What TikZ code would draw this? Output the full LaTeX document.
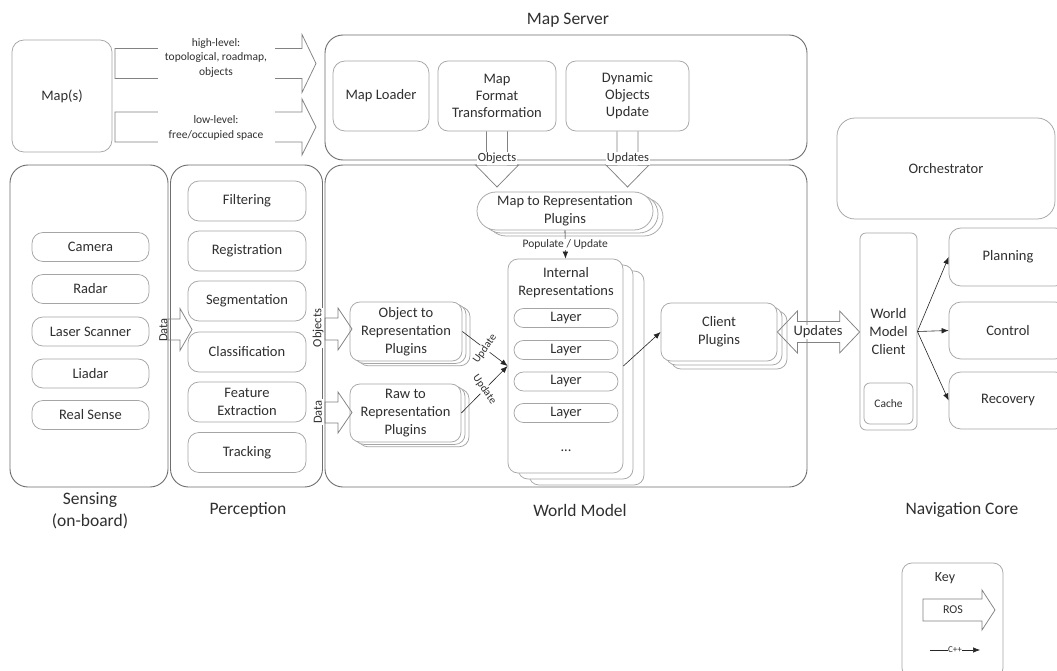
\documentclass[tikz,border=0pt]{standalone}
\usepackage{fontspec}
\setmainfont{Carlito}
\usetikzlibrary{shadows,arrows.meta,calc}
\definecolor{ink}{RGB}{48,48,48}
\definecolor{framegray}{RGB}{110,110,110}
\definecolor{boxline}{RGB}{165,165,165}
\definecolor{arrowline}{RGB}{130,130,130}
\newcommand\fs[2]{\fontsize{#1}{#2}\selectfont}
% outline ("ROS") arrows: start, end, shaft half width, head half width, head length
\newcommand\fatright[5]{%
  \draw[fatarrow] let \p1=(#1), \p2=(#2) in
    (\x1,\y1+#3pt) -- (\x2-#5pt,\y1+#3pt) -- (\x2-#5pt,\y1+#4pt) -- (\x2,\y1)
    -- (\x2-#5pt,\y1-#4pt) -- (\x2-#5pt,\y1-#3pt) -- (\x1,\y1-#3pt) -- cycle;}
\newcommand\fatdown[5]{%
  \draw[fatarrow] let \p1=(#1), \p2=(#2) in
    (\x1+#3pt,\y1) -- (\x1+#3pt,\y2+#5pt) -- (\x1+#4pt,\y2+#5pt) -- (\x1,\y2)
    -- (\x1-#4pt,\y2+#5pt) -- (\x1-#3pt,\y2+#5pt) -- (\x1-#3pt,\y1);}
\newcommand\fatboth[5]{%
  \draw[fatarrow] let \p1=(#1), \p2=(#2) in
    (\x1,\y1) -- (\x1+#5pt,\y1+#4pt) -- (\x1+#5pt,\y1+#3pt) -- (\x2-#5pt,\y1+#3pt)
    -- (\x2-#5pt,\y1+#4pt) -- (\x2,\y1) -- (\x2-#5pt,\y1-#4pt) -- (\x2-#5pt,\y1-#3pt)
    -- (\x1+#5pt,\y1-#3pt) -- (\x1+#5pt,\y1-#4pt) -- cycle;}
\begin{document}
\begin{tikzpicture}[x=1pt,y=-1pt,
  box/.style={draw=boxline, line width=0.75pt, fill=white, rounded corners=10pt,
    text=ink, align=center, font=\fs{14.5}{17.5}, inner sep=2pt},
  frame/.style={draw=framegray, line width=0.9pt, rounded corners=18pt},
  title/.style={text=ink, font=\fs{17.5}{22}, align=center},
  small/.style={text=ink, font=\fs{11.5}{14.5}, align=center, inner sep=1pt},
  lbl/.style={text=ink, font=\fs{12.5}{14}, inner sep=0.8pt},
  fatarrow/.style={draw=arrowline, line width=0.75pt},
  cpp/.style={draw=black!85, line width=0.6pt, -{Latex[length=7pt,width=5.5pt]}},
  stack/.style={copy shadow={shadow xshift=#1*2pt, shadow yshift=-#1*1.2pt, draw=boxline, line width=0.75pt},
                copy shadow={shadow xshift=#1*1pt, shadow yshift=-#1*0.6pt, draw=boxline, line width=0.75pt}}]
\useasboundingbox (0,0) rectangle (1057,671);
\fill[white] (0,0) rectangle (1057,671);
\clip (0,0) rectangle (1057,671);

% ---------- maps and map server ----------
\node[box, rounded corners=12pt, minimum width=100, minimum height=112] (maps) at (62,96) {Map(s)};

\node[frame, minimum width=482, minimum height=125] (mapserver) at (566,97.5) {};
\node[title] (mapservertitle) at (568,20) {Map Server};
\node[box, rounded corners=12pt, minimum width=96, minimum height=70] (loader) at (381,96) {Map Loader};
\node[box, font=\fs{14.5}{17}, minimum width=118, minimum height=70] (mft) at (497,96) {Map\\Format\\Transformation};
\node[box, font=\fs{14.5}{17}, minimum width=123, minimum height=70] (dou) at (627.5,96) {Dynamic\\Objects\\Update};

\coordinate (hiTail) at (115,63.5);
\coordinate (hiTip) at (316,63.5);
\coordinate (loTail) at (115,127);
\coordinate (loTip) at (316,127);
\fatright{hiTail}{hiTip}{15}{29}{14}
\fatright{loTail}{loTip}{15}{28}{14}
\node[small, fill=white, minimum width=117, minimum height=48] (hilabel) at (216,57.5)
  {high-level:\\topological, roadmap,\\objects};
\node[small, fill=white, minimum width=117, minimum height=36] (lolabel) at (216,128)
  {low-level:\\free/occupied space};

% ---------- sensing ----------
\node[frame, minimum width=158, minimum height=322] (sensing) at (89,326) {};
\node[title] (sensingtitle) at (90,511) {Sensing\\(on-board)};
\foreach \n/\t/\y in {camera/Camera/247, radar/Radar/289, laser/Laser Scanner/331.5,
                      liadar/Liadar/373.5, realsense/Real Sense/415}
  \node[box, rounded corners=11pt, minimum width=117, minimum height=29, inner sep=0pt] (\n) at (90.5,\y) {\t};

% ---------- perception ----------
\node[frame, minimum width=152, minimum height=322] (perception) at (246.5,326) {};
\node[title] (perceptiontitle) at (248,510) {Perception};
\foreach \n/\t/\y in {filtering/Filtering/201, registration/Registration/251,
                      segmentation/Segmentation/301, classification/Classification/352,
                      feature/Feature\\Extraction/402, tracking/Tracking/452.5}
  \node[box, rounded corners=11pt, minimum width=118, minimum height=40, inner sep=0pt] (\n) at (247,\y) {\t};

\coordinate (senseOut) at (168,329.5);
\coordinate (percIn) at (192,329.5);
\fatright{senseOut}{percIn}{10.5}{21}{12}
\node[lbl, rotate=90] (sensedata) at (163.5,330) {Data};

% ---------- world model ----------
\node[frame, minimum width=482, minimum height=322] (worldmodel) at (566,326) {};
\node[title] (worldmodeltitle) at (580,510) {World Model};

\coordinate (objDownTip) at (497,187);
\coordinate (updDownTip) at (627.5,187);
\fatdown{mft.south}{objDownTip}{10.5}{21.5}{22}
\node[lbl, fill=white] (objectslabel) at (497,158.5) {Objects};
\fatdown{dou.south}{updDownTip}{10.5}{21.5}{22}
\node[lbl, fill=white] (updateslabel) at (628,158.5) {Updates};

\node[box, rounded corners=19pt, font=\fs{14.5}{18}, minimum width=176, minimum height=38, inner sep=0pt,
      stack=5] (m2r) at (565,211) {Map to Representation\\Plugins};

\node[box, minimum width=115, minimum height=214,
      copy shadow={shadow xshift=21pt, shadow yshift=-12pt, draw=boxline, line width=0.75pt},
      copy shadow={shadow xshift=10pt, shadow yshift=-6pt, draw=boxline, line width=0.75pt}] (ir) at (565.5,366) {};
\node[text=ink, font=\fs{14.5}{18}, align=center] (irtitle) at (566,283) {Internal\\Representations};
\foreach \n/\y in {layerA/318, layerB/350, layerC/381.5, layerD/413}
  \node[box, rounded corners=9.5pt, minimum width=104, minimum height=19, inner sep=0pt] (\n) at (566,\y) {Layer};
\node[text=ink, font=\fs{14.5}{17}] (irdots) at (566,451) {...};

\draw[cpp] (m2r.south) -- node[small, fill=white] (populate) {Populate / Update} (ir.north);

\node[box, font=\fs{14.5}{18}, minimum width=112, minimum height=59, inner sep=0pt, stack=4] (objrep) at (406,331.5)
  {Object to\\Representation\\Plugins};
\node[box, font=\fs{14.5}{18}, minimum width=111, minimum height=58, inner sep=0pt, stack=4] (rawrep) at (405.5,413)
  {Raw to\\Representation\\Plugins};

\coordinate (wmObjIn) at (325,329);
\coordinate (objTip) at (352,329);
\coordinate (wmDataIn) at (325,412.5);
\coordinate (rawTip) at (352,412.5);
\fatright{wmObjIn}{objTip}{11}{21}{14}
\fatright{wmDataIn}{rawTip}{10.5}{20.5}{14}
\node[lbl, rotate=90, fill=white] (objectsside) at (318,328) {Objects};
\node[lbl, rotate=90, fill=white] (dataside) at (318,412) {Data};

\draw[cpp] (objrep.east) -- node[small, font=\fs{11}{13}, fill=white, rotate=55] (updA) {Update} (ir.west);
\draw[cpp] (rawrep.east) -- node[small, font=\fs{11}{13}, fill=white, rotate=-55] (updB) {Update} (ir.west);

\node[box, font=\fs{14.5}{18}, minimum width=116, minimum height=58, inner sep=0pt,
      copy shadow={shadow xshift=10pt, shadow yshift=-8pt, draw=boxline, line width=0.75pt},
      copy shadow={shadow xshift=5pt, shadow yshift=-4pt, draw=boxline, line width=0.75pt}] (client) at (719,332)
  {Client\\Plugins};
\draw[cpp] (ir.east) -- (client.west);

% ---------- navigation core ----------
\node[box, rounded corners=18pt, minimum width=218, minimum height=101] (orch) at (946,168.5) {Orchestrator};
\node[box, rounded corners=6pt, font=\fs{14.5}{18}, minimum width=57, minimum height=197] (wmc) at (888.5,331.5)
  {World\\Model\\Client};
\node[box, rounded corners=6pt, font=\fs{11.5}{14}, minimum width=49, minimum height=41] (cache) at (888.5,403.5) {Cache};
\node[box, rounded corners=12pt, minimum width=118, minimum height=58] (planning) at (1008,257) {Planning};
\node[box, rounded corners=12pt, minimum width=118, minimum height=57] (control) at (1008,330.5) {Control};
\node[box, rounded corners=12pt, minimum width=118, minimum height=57] (recovery) at (1008,400.5) {Recovery};
\node[title] (navtitle) at (962,510) {Navigation Core};

\fatboth{client.east}{wmc.west}{10.5}{21}{20}
\node[text=ink, font=\fs{14.5}{17}, fill=white, inner sep=0.5pt] (updatesboth) at (818,332) {Updates};

\draw[cpp] (wmc.east) -- (planning.west);
\draw[cpp] (wmc.east) -- (control.west);
\draw[cpp] (wmc.east) -- (recovery.west);

% ---------- key ----------
\node[box, rounded corners=10pt, minimum width=101, minimum height=115] (key) at (952.5,620.5) {};
\node[text=ink, font=\fs{14}{16}] (keytitle) at (945,578) {Key};
\coordinate (rosTail) at (923,610);
\coordinate (rosTip) at (995,610);
\fatright{rosTail}{rosTip}{11}{20}{13}
\node[text=ink, font=\fs{12}{14}] (roslabel) at (953,610) {ROS};
\coordinate (cppTail) at (930,650);
\coordinate (cppTip) at (980,650);
\draw[cpp] (cppTail) -- node[text=ink, font=\fs{9}{10}, fill=white, inner sep=0.5pt] (cpplabel) {C++} (cppTip);
\end{tikzpicture}
\end{document}
